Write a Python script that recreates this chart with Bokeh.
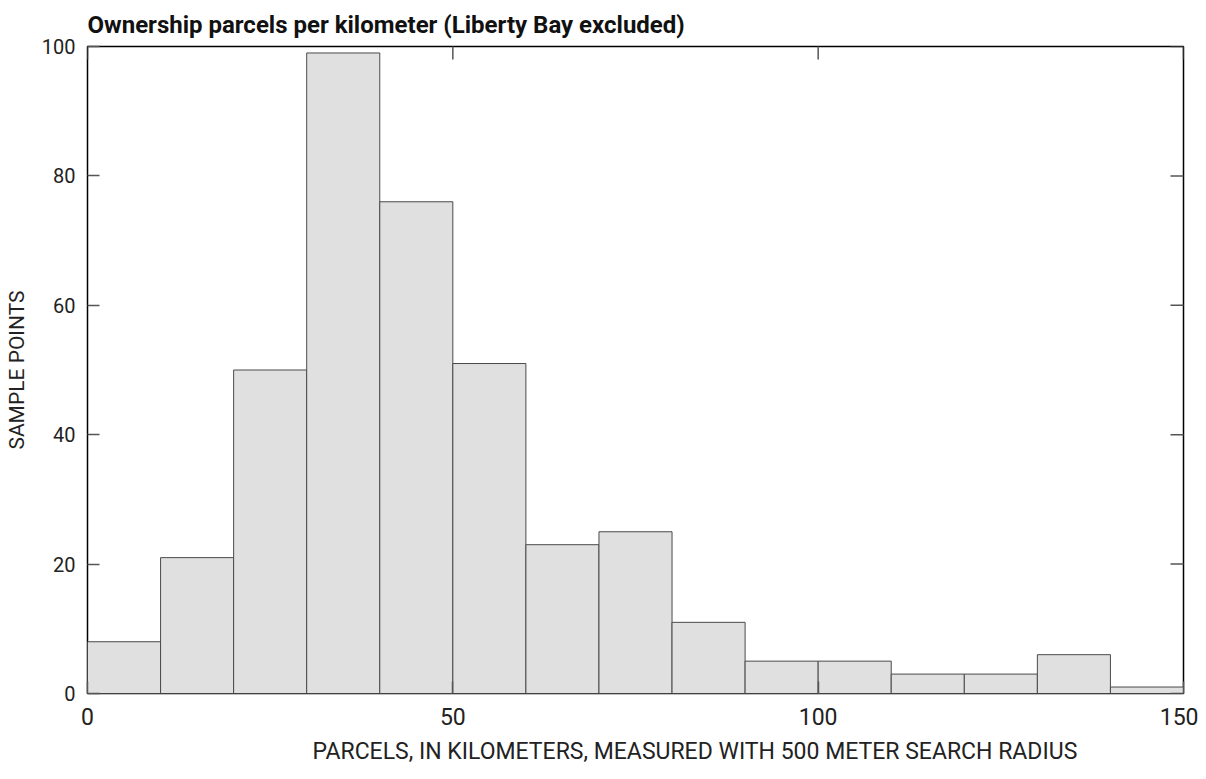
import math
from bokeh.plotting import figure
from bokeh.models import LinearAxis, FixedTicker, Range1d, Title
from bokeh.embed import file_html
from bokeh.resources import INLINE

bin_left = [0, 10, 20, 30, 40, 50, 60, 70, 80, 90, 100, 110, 120, 130, 140]
bin_right = [10, 20, 30, 40, 50, 60, 70, 80, 90, 100, 110, 120, 130, 140, 150]
counts = [8, 21, 50, 99, 76, 51, 23, 25, 11, 5, 5, 3, 3, 6, 1]
x_ticks = [0, 50, 100, 150]
y_ticks = [0, 20, 40, 60, 80, 100]

FONT = "Roboto"
X_MAX = 150
Y_MAX = 100

p = figure(width=1198, height=779, output_backend="svg", toolbar_location=None,
           x_range=Range1d(0, X_MAX), y_range=Range1d(0, Y_MAX),
           x_axis_location=None, y_axis_location=None,
           min_border_left=87, min_border_right=15, min_border_top=45, min_border_bottom=86)

p.quad(left=bin_left, right=bin_right, bottom=0, top=counts,
       fill_color="#e0e0e0", line_color="#4a4a4a", line_width=1)

# inside ticks on the right and top edges (half of each dash is clipped by the frame)
p.scatter(x=[X_MAX] * len(y_ticks), y=y_ticks, marker="dash", size=26,
          line_color="#555555", line_width=1.5)
p.scatter(x=x_ticks, y=[Y_MAX] * len(x_ticks), marker="dash", size=26, angle=math.pi / 2,
          line_color="#555555", line_width=1.5)

p.grid.visible = False
p.outline_line_color = "black"
p.outline_line_width = 1.5
p.background_fill_color = "white"
p.border_fill_color = "white"

def style(ax, tick_size, label_size):
    ax.axis_line_color = None
    ax.major_tick_in = 12
    ax.major_tick_out = 0
    ax.minor_tick_line_color = None
    ax.major_tick_line_color = "#555555"
    ax.major_tick_line_width = 1.5
    ax.major_label_text_font = FONT
    ax.major_label_text_font_size = tick_size
    ax.major_label_text_color = "#222222"
    ax.axis_label_text_font = FONT
    ax.axis_label_text_font_style = "normal"
    ax.axis_label_text_font_size = label_size
    ax.axis_label_text_color = "#222222"

left = LinearAxis(ticker=FixedTicker(ticks=y_ticks), axis_label="SAMPLE POINTS")
style(left, "20px", "21px")
left.major_label_standoff = 12
left.axis_label_standoff = 10
p.add_layout(left, "left")

bottom = LinearAxis(ticker=FixedTicker(ticks=x_ticks))
style(bottom, "23px", "23px")
bottom.major_label_standoff = 14
p.add_layout(bottom, "below")

# x-axis title, drawn off-centre (to the right) as in the original figure
xtitle = Title(text="PARCELS, IN KILOMETERS, MEASURED WITH 500 METER SEARCH RADIUS",
               align="left", offset=225, standoff=17,
               text_font=FONT, text_font_size="23px", text_font_style="normal",
               text_color="#222222")
p.add_layout(xtitle, "below")

p.title.text = "Ownership parcels per kilometer (Liberty Bay excluded)"
p.title.text_font = FONT
p.title.text_font_style = "bold"
p.title.text_font_size = "24px"
p.title.text_color = "#111111"
p.title.offset = 0
p.title.standoff = 16

open("out.html", "w").write(file_html(p, INLINE))
